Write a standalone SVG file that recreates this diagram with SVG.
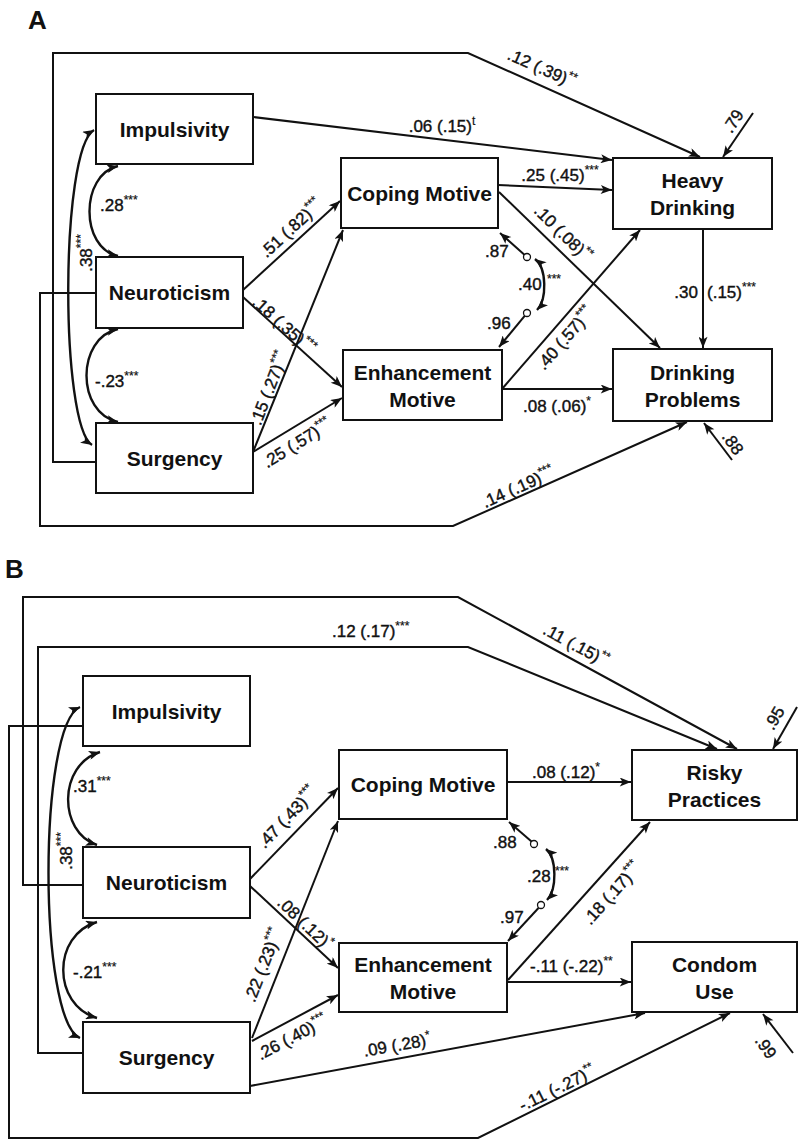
<svg xmlns="http://www.w3.org/2000/svg" width="798" height="1141" viewBox="0 0 798 1141">
<defs>
<marker id="ah" viewBox="0 0 10 8" refX="10" refY="4" markerWidth="12" markerHeight="9" markerUnits="userSpaceOnUse" orient="auto-start-reverse">
<path d="M0,0 L10,4 L0,8 L2.5,4 z" fill="#111"/>
</marker>
<style>
.box{fill:#fff;stroke:#111;stroke-width:2}
.nt{font-family:"Liberation Sans",Arial,sans-serif;font-weight:bold;font-size:21px;fill:#111;text-anchor:middle}
.pl{font-family:"Liberation Sans",Arial,sans-serif;font-weight:bold;font-size:26px;fill:#111}
.lb{font-family:"Liberation Sans",Arial,sans-serif;font-size:17px;fill:#111;stroke:#111;stroke-width:0.4}
.c{text-anchor:middle}
.e{text-anchor:end}
.sup{font-size:12px;stroke-width:0.2}
.ln{fill:none;stroke:#111;stroke-width:2;marker-end:url(#ah)}
.cv{fill:none;stroke:#111;stroke-width:2.4;marker-start:url(#ah);marker-end:url(#ah)}
.ci{fill:#fff;stroke:#111;stroke-width:1.3}
</style>
</defs>
<rect width="798" height="1141" fill="#fff"/>

<text class="pl" x="28" y="29">A</text>
<text class="pl" x="5" y="578">B</text>

<g id="connectors">
<!-- Panel A -->
<path class="ln" d="M96,462 H53 V53 H468 L700,157"/>
<path class="ln" d="M96,293 H40 V526 H453 L687,422"/>
<path class="ln" d="M253,117 L612,160"/>
<path class="ln" d="M498,185 L612,190"/>
<path class="ln" d="M499,192 L660,348"/>
<path class="ln" d="M502,389 L640,230"/>
<path class="ln" d="M502,389 L612,389"/>
<path class="ln" d="M703,229 L703,348"/>
<path class="ln" d="M243,290 L340,201"/>
<path class="ln" d="M243,297 L342,387"/>
<path class="ln" d="M253,452 L343,230"/>
<path class="ln" d="M253,452 L342,398"/>
<path class="ln" d="M753,113 L723,157"/>
<path class="ln" d="M732,460 L704,423"/>
<path class="cv" d="M118,166 C80,175 80,248 118,256"/>
<path class="cv" d="M118,329 C76,338 76,413 118,422"/>
<path class="cv" d="M94,130 C60,150 60,425 92,445"/>
<path class="cv" d="M535,259 C547,268 547,300 537,310"/>
<path class="ln" d="M524.4,254.7 L500,233"/>
<path class="ln" d="M524.7,315.8 L499,347"/>
<circle class="ci" cx="527" cy="257" r="3.5"/>
<circle class="ci" cx="527" cy="313" r="3.5"/>
<!-- Panel B -->
<path class="ln" d="M83,885 H23 V597 H458 L737,749"/>
<path class="ln" d="M83,1053 H38 V647 H468 L717,749"/>
<path class="ln" d="M83,726 H9 V1138 H478 L730,1013"/>
<path class="ln" d="M507,782 L631,782"/>
<path class="ln" d="M507,982 L631,982"/>
<path class="ln" d="M508,980 L650,822"/>
<path class="ln" d="M250,1086 L645,1013"/>
<path class="ln" d="M250,879 L338,788"/>
<path class="ln" d="M250,886 L338,968"/>
<path class="ln" d="M252,1038 L338,821"/>
<path class="ln" d="M252,1041 L338,995"/>
<path class="ln" d="M797,707 L773,749"/>
<path class="ln" d="M793,1053 L763,1014"/>
<path class="cv" d="M100,752 C58,765 58,832 97,845"/>
<path class="cv" d="M97,922 C52,935 52,1005 97,1018"/>
<path class="cv" d="M80,707 C38,725 38,1020 80,1038"/>
<path class="cv" d="M546,849 C557,858 557,890 547,900"/>
<path class="ln" d="M531.5,841.5 L509,822"/>
<path class="ln" d="M538.5,908 L508,941"/>
<circle class="ci" cx="534" cy="844" r="3.5"/>
<circle class="ci" cx="541" cy="905" r="3.5"/>

<!-- Panel A labels -->
<text class="lb c" transform="translate(542,68) rotate(24)" y="6">.12 (.39)<tspan class="sup" dy="-7">**</tspan></text>
<text class="lb c" x="442" y="132">.06 (.15)<tspan class="sup" dy="-7">t</tspan></text>
<text class="lb c" x="560" y="181">.25 (.45)<tspan class="sup" dy="-7">***</tspan></text>
<text class="lb c" transform="translate(563,233) rotate(44.5)" y="6">.10 (.08)<tspan class="sup" dy="-7">**</tspan></text>
<text class="lb c" transform="translate(565,338) rotate(-49)" y="6">.40 (.57)<tspan class="sup" dy="-7">***</tspan></text>
<text class="lb" x="523" y="412">.08 (.06)<tspan class="sup" dy="-7">*</tspan></text>
<text class="lb e" x="698" y="298">.30</text>
<text class="lb" x="707" y="298">(.15)<tspan class="sup" dy="-7">***</tspan></text>
<text class="lb c" transform="translate(291,228) rotate(-42.6)" y="6">.51 (.82)<tspan class="sup" dy="-7">***</tspan></text>
<text class="lb c" transform="translate(284,325) rotate(42)" y="6">.18 (.35)<tspan class="sup" dy="-7">***</tspan></text>
<text class="lb c" transform="translate(269,388) rotate(-68.5)" y="6">.15 (.27)<tspan class="sup" dy="-7">***</tspan></text>
<text class="lb c" transform="translate(297,443) rotate(-31.8)" y="6">.25 (.57)<tspan class="sup" dy="-7">***</tspan></text>
<text class="lb c" transform="translate(518,487) rotate(-24)" y="6">.14 (.19)<tspan class="sup" dy="-7">***</tspan></text>
<text class="lb" x="100" y="211">.28<tspan class="sup" dy="-7">***</tspan></text>
<text class="lb" x="95" y="387">-.23<tspan class="sup" dy="-7">***</tspan></text>
<text class="lb c" transform="translate(86,253) rotate(-90)" y="6">.38<tspan class="sup" dy="-7">***</tspan></text>
<text class="lb c" transform="translate(733,121) rotate(-57)" y="6">.79</text>
<text class="lb c" transform="translate(733,443) rotate(55)" y="6">.88</text>
<text class="lb" x="485" y="257">.87</text>
<text class="lb" x="487" y="329">.96</text>
<text class="lb" x="518" y="290">.40</text>
<text class="lb sup" x="547" y="283">***</text>

<!-- Panel B labels -->
<text class="lb c" transform="translate(576,645) rotate(28.4)" y="6">.11 (.15)<tspan class="sup" dy="-7">**</tspan></text>
<text class="lb" x="332" y="637">.12 (.17)<tspan class="sup" dy="-7">***</tspan></text>
<text class="lb" x="532" y="778">.08 (.12)<tspan class="sup" dy="-7">*</tspan></text>
<text class="lb c" transform="translate(287,817) rotate(-46.6)" y="6">.47 (.43)<tspan class="sup" dy="-7">***</tspan></text>
<text class="lb c" transform="translate(305,923) rotate(43.6)" y="6">.08 (.12)<tspan class="sup" dy="-7">*</tspan></text>
<text class="lb c" transform="translate(263,965) rotate(-68.6)" y="6">.22 (.23)<tspan class="sup" dy="-7">***</tspan></text>
<text class="lb c" transform="translate(292,1037) rotate(-28)" y="6">.26 (.40)<tspan class="sup" dy="-7">***</tspan></text>
<text class="lb c" transform="translate(397,1045) rotate(-10)" y="6">.09 (.28)<tspan class="sup" dy="-7">*</tspan></text>
<text class="lb" x="530" y="972">-.11 (-.22)<tspan class="sup" dy="-7">**</tspan></text>
<text class="lb c" transform="translate(612,893) rotate(-48)" y="6">.18 (.17)<tspan class="sup" dy="-7">***</tspan></text>
<text class="lb c" transform="translate(557,1088) rotate(-26)" y="6">-.11 (-.27)<tspan class="sup" dy="-7">**</tspan></text>
<text class="lb" x="73" y="792">.31<tspan class="sup" dy="-7">***</tspan></text>
<text class="lb" x="73" y="978">-.21<tspan class="sup" dy="-7">***</tspan></text>
<text class="lb c" transform="translate(66,851) rotate(-90)" y="6">.38<tspan class="sup" dy="-7">***</tspan></text>
<text class="lb c" transform="translate(774,718) rotate(-60)" y="6">.95</text>
<text class="lb c" transform="translate(766,1047) rotate(55)" y="6">.99</text>
<text class="lb" x="493" y="848">.88</text>
<text class="lb" x="500" y="923">.97</text>
<text class="lb" x="527" y="882">.28</text>
<text class="lb sup" x="555" y="875">***</text>
</g>

<!-- Panel A nodes -->
<g id="a-impulsivity"><rect class="box" x="96" y="94" width="157" height="70"/><text class="nt" x="174.5" y="136.5">Impulsivity</text></g>
<g id="a-neuroticism"><rect class="box" x="96" y="257" width="147" height="71"/><text class="nt" x="169.5" y="300">Neuroticism</text></g>
<g id="a-surgency"><rect class="box" x="96" y="423" width="157" height="70"/><text class="nt" x="174.5" y="465.5">Surgency</text></g>
<g id="a-coping"><rect class="box" x="341" y="158" width="157" height="70"/><text class="nt" x="419.5" y="200.5">Coping Motive</text></g>
<g id="a-enhancement"><rect class="box" x="343" y="350" width="159" height="70"/><text class="nt" x="422.5" y="379.5">Enhancement</text><text class="nt" x="422.5" y="406.5">Motive</text></g>
<g id="a-heavy"><rect class="box" x="613" y="158" width="159" height="71"/><text class="nt" x="692.5" y="188">Heavy</text><text class="nt" x="692.5" y="215">Drinking</text></g>
<g id="a-problems"><rect class="box" x="613" y="349" width="159" height="72"/><text class="nt" x="692.5" y="379.5">Drinking</text><text class="nt" x="692.5" y="406.5">Problems</text></g>

<!-- Panel B nodes -->
<g id="b-impulsivity"><rect class="box" x="83" y="676" width="167" height="70"/><text class="nt" x="166.5" y="718.5">Impulsivity</text></g>
<g id="b-neuroticism"><rect class="box" x="83" y="847" width="167" height="71"/><text class="nt" x="166.5" y="890">Neuroticism</text></g>
<g id="b-surgency"><rect class="box" x="83" y="1022" width="167" height="71"/><text class="nt" x="166.5" y="1065">Surgency</text></g>
<g id="b-coping"><rect class="box" x="339" y="750" width="168" height="69"/><text class="nt" x="423" y="792">Coping Motive</text></g>
<g id="b-enhancement"><rect class="box" x="339" y="943" width="168" height="69"/><text class="nt" x="423" y="972">Enhancement</text><text class="nt" x="423" y="999">Motive</text></g>
<g id="b-risky"><rect class="box" x="632" y="750" width="165" height="70"/><text class="nt" x="714.5" y="779.5">Risky</text><text class="nt" x="714.5" y="806.5">Practices</text></g>
<g id="b-condom"><rect class="box" x="632" y="942" width="165" height="70"/><text class="nt" x="714.5" y="971.5">Condom</text><text class="nt" x="714.5" y="998.5">Use</text></g>
</svg>
